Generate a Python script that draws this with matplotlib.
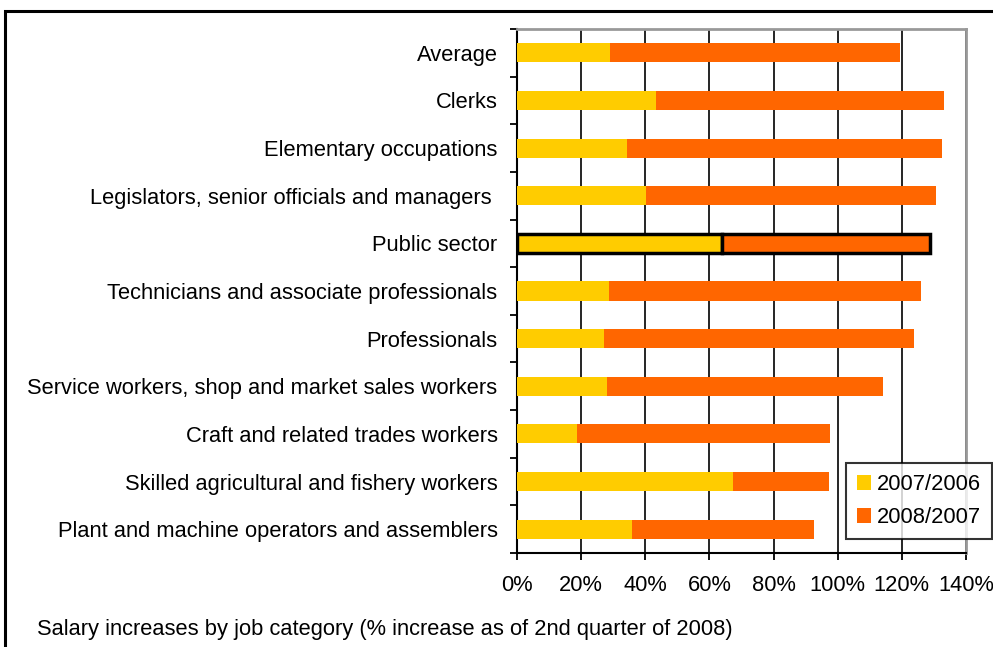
import matplotlib
matplotlib.use("Agg")
import matplotlib.pyplot as plt
from matplotlib.patches import Rectangle
import numpy as np

plt.rcParams['font.family'] = ['Liberation Sans', 'DejaVu Sans']

# job categories, top to bottom as in the chart
categories = [
    "Average",
    "Clerks",
    "Elementary occupations",
    "Legislators, senior officials and managers ",
    "Public sector",
    "Technicians and associate professionals",
    "Professionals",
    "Service workers, shop and market sales workers",
    "Craft and related trades workers",
    "Skilled agricultural and fishery workers",
    "Plant and machine operators and assemblers",
]
inc_2007_2006 = [29.0, 43.3, 34.3, 40.2, 63.8, 28.7, 27.1, 28.1, 18.7, 67.4, 35.9]
inc_2008_2007 = [90.3, 89.9, 98.2, 90.4, 65.0, 97.3, 96.7, 86.0, 78.9, 29.9, 56.7]
highlight = "Public sector"
xticks = [0, 20, 40, 60, 80, 100, 120, 140]
series_names = ["2007/2006", "2008/2007"]
footer = "Salary increases by job category (% increase as of 2nd quarter of 2008)"

yellow = "#FFCC00"
orange = "#FF6600"
fs = 15.75

W, H = 993, 647
fig = plt.figure(figsize=(W / 100, H / 100), dpi=100)
ax = fig.add_axes([517 / W, 1 - 553 / H, 449 / W, 524 / H])

y = np.arange(len(categories))
edges = ["black" if c == highlight else "none" for c in categories]
lws = [2.5 if c == highlight else 0 for c in categories]

ax.barh(y, inc_2007_2006, height=0.4, color=yellow, edgecolor=edges,
        linewidth=lws, label=series_names[0], zorder=3)
ax.barh(y, inc_2008_2007, left=inc_2007_2006, height=0.4, color=orange,
        edgecolor=edges, linewidth=lws, label=series_names[1], zorder=3)

ax.set_ylim(len(categories) - 0.5, -0.5)
ax.set_xlim(0, 140)

ax.set_yticks(y)
ax.set_yticklabels(categories, fontsize=fs)
ax.set_yticks(np.arange(len(categories) + 1) - 0.5, minor=True)
ax.tick_params(axis="y", which="major", length=0, pad=14)
ax.tick_params(axis="y", which="minor", length=5, width=1.3, direction="out", color="black")

ax.set_xticks(xticks)
ax.set_xticklabels([f"{v}%" for v in xticks], fontsize=fs)
ax.tick_params(axis="x", length=5, width=1.3, direction="out", pad=11)

ax.grid(axis="x", color="black", linewidth=1.2)
ax.set_axisbelow(True)

ax.spines["left"].set_linewidth(1.5)
ax.spines["bottom"].set_linewidth(1.5)
ax.spines["top"].set_color("#999999")
ax.spines["top"].set_linewidth(2)
ax.spines["right"].set_color("#999999")
ax.spines["right"].set_linewidth(2)

leg = ax.legend(loc="upper left", bbox_to_anchor=(846 / W, 1 - 463 / H),
                bbox_transform=fig.transFigure, borderaxespad=0, fancybox=False,
                fontsize=fs, handlelength=0.65, handleheight=0.65,
                handletextpad=0.25, labelspacing=0.55, borderpad=0.5)
leg.get_frame().set_edgecolor("black")
leg.get_frame().set_linewidth(1.5)

# outer chart frame (runs off the right and bottom of the image)
fig.patches.append(Rectangle((5 / W, -0.1), 1.2, 1 - 11 / H + 0.1,
                             transform=fig.transFigure, fill=False,
                             edgecolor="black", linewidth=2.2, clip_on=False))

fig.text(37 / W, 1 - 630 / H, footer, fontsize=fs, va="center", ha="left")

fig.savefig("out.png", dpi=100)
